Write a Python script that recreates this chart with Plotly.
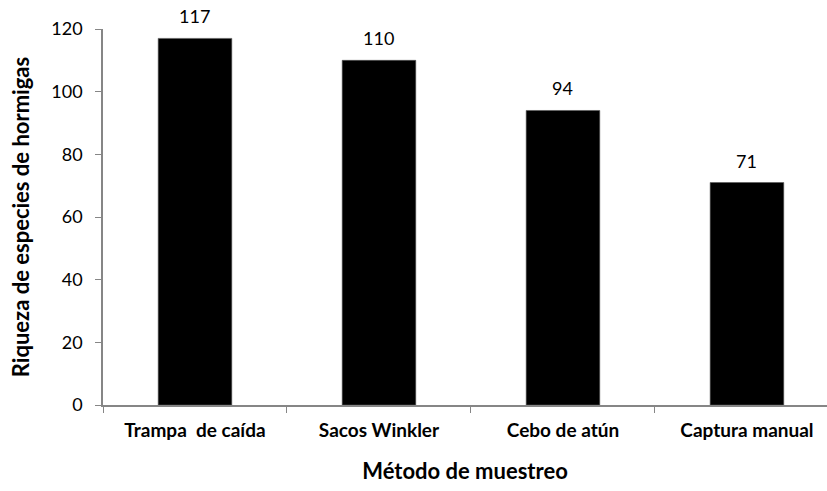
import plotly.graph_objects as go

categories = ["Trampa\u00a0 de caída", "Sacos Winkler", "Cebo de atún", "Captura manual"]
values = [117, 110, 94, 71]
y_ticks = [0, 20, 40, 60, 80, 100, 120]

fig = go.Figure()
fig.add_trace(go.Bar(
    x=categories, y=values,
    width=0.4,
    marker=dict(color="black", line=dict(color="#555555", width=0.6)),
))
for c, v in zip(categories, values):
    fig.add_annotation(x=c, y=v, text=str(v), showarrow=False,
                       yanchor="bottom", yshift=9,
                       font=dict(family="Lato", size=18, color="black"))

fig.update_layout(
    width=827, height=491,
    margin=dict(l=103, r=0, t=29, b=86),
    plot_bgcolor="white", paper_bgcolor="white",
    showlegend=False,
    font=dict(family="Lato", color="black"),
)
fig.update_xaxes(
    type="category",
    range=[-0.5, 3.435],
    showline=True, linecolor="#868686", linewidth=1.5,
    ticks="outside", tickson="boundaries", ticklen=6, tickcolor="#868686",
    tickfont=dict(family="Lato", size=19, color="black", weight="bold"),
    ticklabelstandoff=7,
    title=dict(text="<b>Método de muestreo</b>", font=dict(family="Lato", size=22, color="black"), standoff=24),
    showgrid=False, automargin=False,
)
fig.update_yaxes(
    range=[0, 120],
    tickvals=y_ticks,
    showline=True, linecolor="#868686", linewidth=1.5,
    ticks="outside", ticklen=6, tickcolor="#868686",
    tickfont=dict(family="Lato", size=18, color="black"),
    ticklabelstandoff=9,
    title=dict(text="<b>Riqueza de especies de hormigas</b>", font=dict(family="Lato", size=22, color="black"), standoff=16),
    showgrid=False, zeroline=False, automargin=False,
)

fig.write_html("out.html")
